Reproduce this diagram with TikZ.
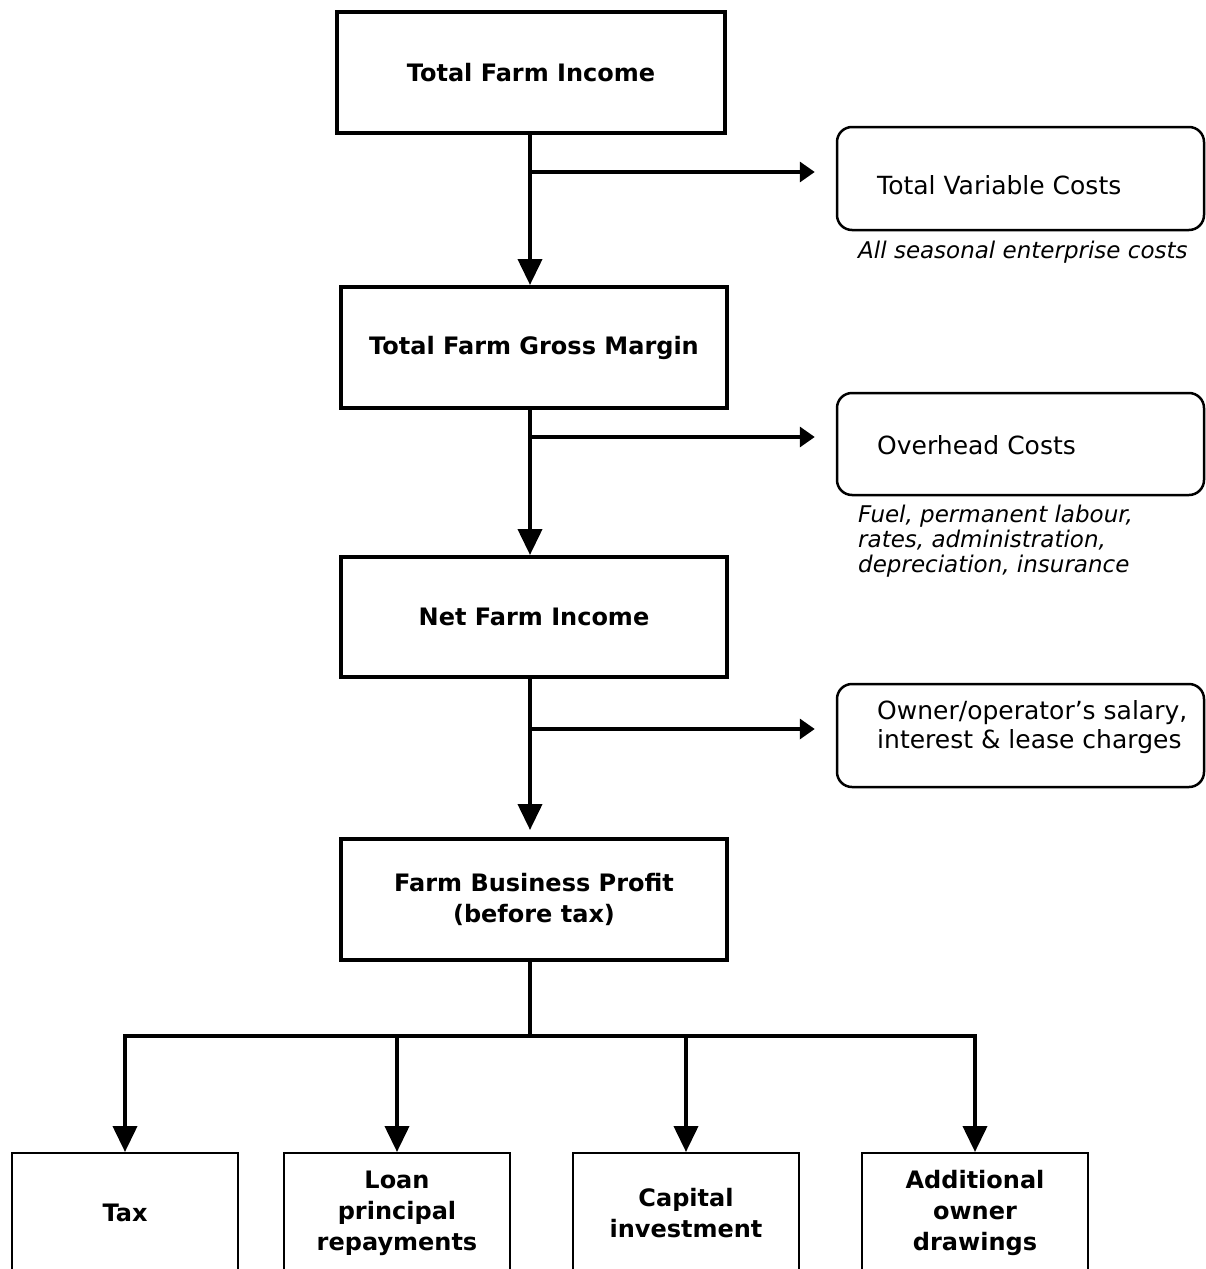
\documentclass[tikz,border=0pt]{standalone}
\usepackage{fontspec}
\setmainfont{DejaVu Sans}
\usetikzlibrary{arrows.meta}
\begin{document}
\begin{tikzpicture}[x=1pt,y=-1pt,
 mainbox/.style={draw,line width=4pt,minimum width=386pt,minimum height=121pt,inner sep=0pt,align=center,font=\fontsize{24}{31}\selectfont\bfseries},
 sidebox/.style={draw,line width=2.5pt,rounded corners=15pt,minimum width=367pt,minimum height=103pt,inner sep=0pt},
 sidetext/.style={anchor=west,inner sep=0pt,align=left,font=\fontsize{25}{29}\selectfont},
 note/.style={anchor=west,inner sep=0pt,align=left,font=\fontsize{23}{25}\selectfont\itshape},
 endbox/.style={draw,line width=2pt,minimum width=226pt,minimum height=120pt,anchor=north,inner sep=0pt,align=center,font=\fontsize{24}{31}\selectfont\bfseries},
 down/.style={line width=4pt,-{Triangle[length=26pt,width=24pt]}},
 side/.style={line width=3.5pt,-{Triangle[length=15pt,width=20pt]}},
 link/.style={line width=4pt}]
\useasboundingbox (0,0) rectangle (1206,1269);
\clip (0,0) rectangle (1206,1269);

% main column
\node[mainbox,minimum width=388pt] (b1) at (531,72.5) {Total Farm Income};
\node[mainbox] (b2) at (534,347.5) {Total Farm Gross Margin};
\node[mainbox,minimum height=120pt] (b3) at (534,617) {Net Farm Income};
\node[mainbox] (b4) at (534,899.5) {Farm Business Profit\\(before tax)};

% side boxes
\node[sidebox] (r1) at (1020.5,178.5) {};
\node[sidetext] (r1t) at (877,185) {Total Variable Costs};
\node[note] (n1) at (858,252) {All seasonal enterprise costs};

\node[sidebox,minimum height=102pt] (r2) at (1020.5,444) {};
\node[sidetext] (r2t) at (877,445) {Overhead Costs};
\node[note] (n2) at (858,541) {Fuel, permanent labour,\\rates, administration,\\depreciation, insurance};

\node[sidebox] (r3) at (1020.5,735.5) {};
\node[sidetext] (r3t) at (877,727.5) {Owner/operator’s salary,\\interest \& lease charges};

% bottom boxes
\node[endbox] (tax) at (125,1152) {Tax};
\node[endbox] (loan) at (397,1152) {Loan\\principal\\repayments};
\node[endbox] (cap) at (686,1152) {Capital\\investment};
\node[endbox] (add) at (975,1152) {Additional\\owner\\drawings};

% junctions
\coordinate (j1) at (530,172);
\coordinate (j2) at (530,437);
\coordinate (j3) at (530,729);
\coordinate (bus) at (530,1036);

% connectors
\draw[down] (b1.south -| j1) -- (b2.north -| j1);
\draw[down] (b2.south -| j2) -- (b3.north -| j2);
\draw[down,shorten >=7pt] (b3.south -| j3) -- (b4.north -| j3);
\draw[side,shorten >=21pt] (j1) -- (j1 -| r1.west);
\draw[side,shorten >=21pt] (j2) -- (j2 -| r2.west);
\draw[side,shorten >=21pt] (j3) -- (j3 -| r3.west);

\draw[link] (b4.south -| bus) -- (bus);
\draw[link,line cap=rect] (bus -| tax.north) -- (bus -| add.north);
\draw[down] (bus -| tax.north) -- (tax.north);
\draw[down] (bus -| loan.north) -- (loan.north);
\draw[down] (bus -| cap.north) -- (cap.north);
\draw[down] (bus -| add.north) -- (add.north);
\end{tikzpicture}
\end{document}
